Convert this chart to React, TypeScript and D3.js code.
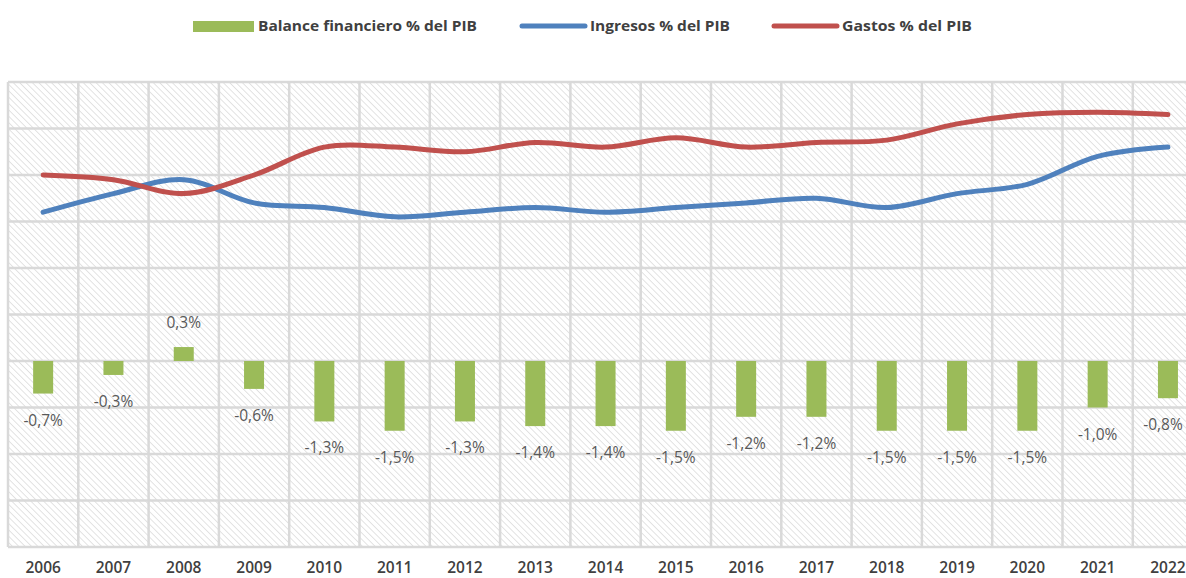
import React from "react";
import * as d3 from "d3";

const years = ["2006","2007","2008","2009","2010","2011","2012","2013","2014","2015","2016","2017","2018","2019","2020","2021","2022"];
const balance = [-0.7,-0.3,0.3,-0.6,-1.3,-1.5,-1.3,-1.4,-1.4,-1.5,-1.2,-1.2,-1.5,-1.5,-1.5,-1.0,-0.8];
const ingresos = [22.2,22.6,22.9,22.4,22.3,22.1,22.2,22.3,22.2,22.3,22.4,22.5,22.3,22.6,22.8,23.4,23.6];
const gastos = [23.0,22.9,22.6,23.0,23.6,23.6,23.5,23.7,23.6,23.8,23.6,23.7,23.75,24.1,24.3,24.35,24.3];
const yTicks = [-4,-3,-2,-1,0,1,2,3,4,5,6];

const W = 1186, H = 578;
const left = 8, top = 82, bottom = 547;
const band = 70.3;

export default function App() {
  const x = d3.scaleBand<string>().domain(years).range([left, left + band * years.length]).paddingInner(0).paddingOuter(0);
  const y = d3.scaleLinear().domain([-4, 6]).range([bottom, top]);
  const y2 = d3.scaleLinear().domain([15, 25]).range([bottom, top]);
  const barW = 20;
  const cx = (yr: string) => (x(yr) as number) + x.bandwidth() / 2;
  const line = (vals: number[]) =>
    d3.line<number>().x((_, i) => cx(years[i])).y((v) => y2(v)).curve(d3.curveCatmullRom.alpha(0.5))(vals) as string;
  const plotRight = left + band * years.length;
  const font = "'Open Sans', sans-serif";
  return (
    <svg width={W} height={H} style={{ position: "fixed", left: 0, top: 0, background: "#fff" }}>
      <defs>
        <pattern id="hatch" width="4.5" height="4.5" patternUnits="userSpaceOnUse" patternTransform="rotate(-45)">
          <line x1="0" y1="0" x2="0" y2="4.5" stroke="#d0d0d0" strokeWidth="1.2" />
        </pattern>
      </defs>
      <rect x={left} y={top} width={plotRight - left} height={bottom - top} fill="url(#hatch)" />
      {yTicks.map((t) => (
        <line key={t} x1={left} x2={plotRight} y1={y(t)} y2={y(t)} stroke="#d9d9d9" strokeWidth={2.5} />
      ))}
      {years.concat(["end"]).map((yr, i) => (
        <line key={yr} x1={left + band * i} x2={left + band * i} y1={top} y2={bottom} stroke="#d9d9d9" strokeWidth={2.5} />
      ))}
      {balance.map((v, i) => (
        <rect key={i} x={cx(years[i]) - barW / 2} width={barW} y={Math.min(y(v), y(0))} height={Math.abs(y(v) - y(0))} fill="#9bbb59" />
      ))}
      {balance.map((v, i) => (
        <text key={i} x={Math.min(cx(years[i]), 1163)} y={v >= 0 ? y(v) - 25 : y(v) + 26} textAnchor="middle" dominantBaseline="central"
          fontFamily={font} fontSize={15.5} fill="#595959">
          {(v < 0 ? "-" : "") + Math.abs(v).toFixed(1).replace(".", ",") + "%"}
        </text>
      ))}
      <path d={line(ingresos)} fill="none" stroke="#4f81bd" strokeWidth={5} strokeLinecap="round" />
      <path d={line(gastos)} fill="none" stroke="#c0504d" strokeWidth={5} strokeLinecap="round" />
      {years.map((yr) => (
        <text key={yr} x={cx(yr)} y={567} textAnchor="middle" dominantBaseline="central" fontFamily={font} fontSize={15.5} fontWeight={600} fill="#404040">
          {yr}
        </text>
      ))}
      <g fontFamily={font} fontSize={15} fontWeight={700} fill="#404040">
        <rect x={193} y={21} width={61} height={11} fill="#9bbb59" />
        <text x={258} y={25} dominantBaseline="central" textLength={219} lengthAdjust="spacingAndGlyphs">Balance financiero % del PIB</text>
        <line x1={522} x2={585} y1={26} y2={26} stroke="#4f81bd" strokeWidth={5} strokeLinecap="round" />
        <text x={590} y={25} dominantBaseline="central" textLength={140} lengthAdjust="spacingAndGlyphs">Ingresos % del PIB</text>
        <line x1={774} x2={837} y1={26} y2={26} stroke="#c0504d" strokeWidth={5} strokeLinecap="round" />
        <text x={842} y={25} dominantBaseline="central" textLength={130} lengthAdjust="spacingAndGlyphs">Gastos % del PIB</text>
      </g>
    </svg>
  );
}
